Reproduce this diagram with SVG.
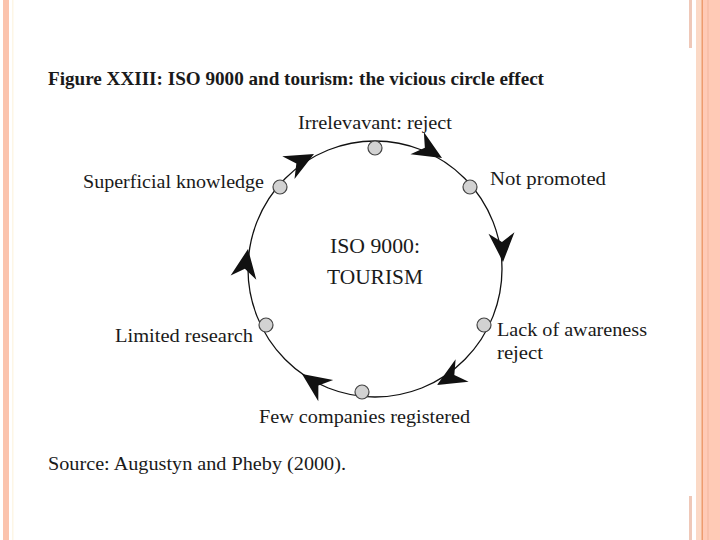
<svg xmlns="http://www.w3.org/2000/svg" xmlns:xlink="http://www.w3.org/1999/xlink" width="720" height="540" viewBox="0 0 720 540">
<style>
.lbl{font-family:"Liberation Serif","Times New Roman",serif;font-size:19.5px;fill:#1a1a1a}
.ctr{font-family:"Liberation Serif","Times New Roman",serif;font-size:21px;fill:#1a1a1a}
.node{fill:#d2d2d2;stroke:#444;stroke-width:1.2}
.ah{fill:#111}
</style>
<defs>
<path id="ah" class="ah" d="M0,0 L-29,-13 L-20,0 L-29,13 Z"/>
</defs>
<rect x="0" y="0" width="720" height="540" fill="#ffffff"/>
<g id="frame">
<rect x="3" y="0" width="6" height="540" fill="#fbc3ad"/>
<rect x="12" y="0" width="1.5" height="540" fill="#fdf6e6"/>
<rect x="696" y="0" width="6" height="540" fill="#fbd9c6"/>
<rect x="701.5" y="0" width="1.5" height="540" fill="#ee9c6e"/>
<rect x="703" y="0" width="17" height="540" fill="#ffcab6"/>
<rect x="707" y="0" width="2" height="540" fill="#f8c0aa"/>
<rect x="689" y="0" width="3" height="48" fill="#efc8b8"/>
<rect x="689" y="496" width="3" height="44" fill="#efc8b8"/>
</g>
<text id="title" x="48" y="85" font-family="Liberation Serif, Times New Roman, serif" font-weight="bold" font-size="19" fill="#1a1a1a" textLength="496" lengthAdjust="spacingAndGlyphs">Figure XXIII: ISO 9000 and tourism: the vicious circle effect</text>
<g id="connectors">
<ellipse cx="375" cy="269" rx="127" ry="128" fill="none" stroke="#111" stroke-width="1.3"/>
<use xlink:href="#ah" href="#ah" transform="translate(442,158) rotate(31)"/>
<use xlink:href="#ah" href="#ah" transform="translate(503,262) rotate(87)"/>
<use xlink:href="#ah" href="#ah" transform="translate(437,385) rotate(150)"/>
<use xlink:href="#ah" href="#ah" transform="translate(302,374) rotate(215)"/>
<use xlink:href="#ah" href="#ah" transform="translate(248,249) rotate(279)"/>
<use xlink:href="#ah" href="#ah" transform="translate(314,154) rotate(332)"/>
</g>
<g id="center">
<text class="ctr" x="375" y="253" text-anchor="middle" textLength="90" lengthAdjust="spacingAndGlyphs">ISO 9000:</text>
<text class="ctr" x="375" y="284" text-anchor="middle" textLength="96" lengthAdjust="spacingAndGlyphs">TOURISM</text>
</g>
<g id="n1"><circle class="node" cx="375" cy="148" r="7"/><text class="lbl" x="298" y="129" textLength="154" lengthAdjust="spacingAndGlyphs">Irrelevavant: reject</text></g>
<g id="n2"><circle class="node" cx="470" cy="187" r="7"/><text class="lbl" x="490" y="185" textLength="116" lengthAdjust="spacingAndGlyphs">Not promoted</text></g>
<g id="n3"><circle class="node" cx="484" cy="325" r="7"/><text class="lbl" x="497" y="336" textLength="150" lengthAdjust="spacingAndGlyphs">Lack of awareness</text><text class="lbl" x="497" y="359" textLength="46" lengthAdjust="spacingAndGlyphs">reject</text></g>
<g id="n4"><circle class="node" cx="362" cy="392" r="7"/><text class="lbl" x="259" y="423" textLength="211" lengthAdjust="spacingAndGlyphs">Few companies registered</text></g>
<g id="n5"><circle class="node" cx="266" cy="325" r="7"/><text class="lbl" x="115" y="342" textLength="138" lengthAdjust="spacingAndGlyphs">Limited research</text></g>
<g id="n6"><circle class="node" cx="280" cy="187" r="7"/><text class="lbl" x="83" y="188" textLength="181" lengthAdjust="spacingAndGlyphs">Superficial knowledge</text></g>
<text id="source" class="lbl" x="48" y="470" font-size="18" textLength="298" lengthAdjust="spacingAndGlyphs">Source: Augustyn and Pheby (2000).</text>
</svg>
